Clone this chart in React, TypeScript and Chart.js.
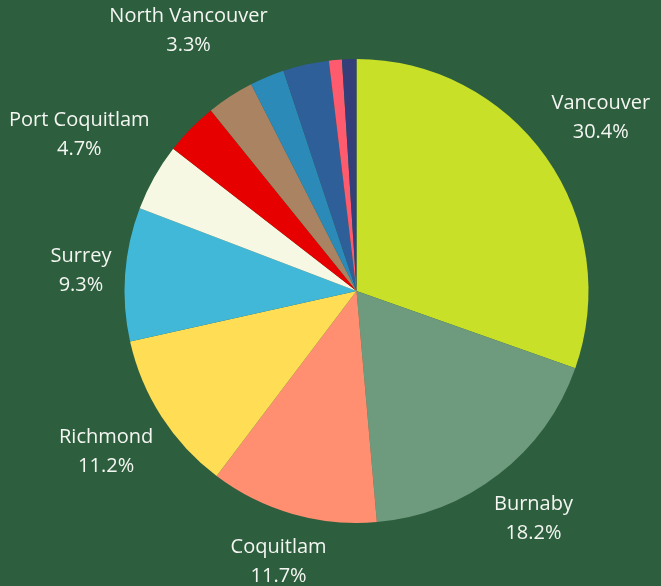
import React, { useEffect, useRef } from "react";
import { Chart, registerables } from "chart.js";

Chart.register(...registerables);

const cities = [
  "Vancouver",
  "Burnaby",
  "Coquitlam",
  "Richmond",
  "Surrey",
  "Port Coquitlam",
  "New Westminster",
  "North Vancouver",
  "Port Moody",
  "West Vancouver",
  "Delta",
  "Langley",
];
const shares = [30.4, 18.2, 11.7, 11.2, 9.3, 4.7, 3.7, 3.3, 2.4, 3.2, 0.9, 1.0];
const sliceColors = [
  "#C8E027",
  "#6E9B7D",
  "#FF8F70",
  "#FFDD55",
  "#42B8D8",
  "#F7F8E4",
  "#E60000",
  "#AA8462",
  "#2B8AB8",
  "#2E5F98",
  "#FF5B6E",
  "#343F7A",
];
const labeledCities = [
  "Vancouver",
  "Burnaby",
  "Coquitlam",
  "Richmond",
  "Surrey",
  "Port Coquitlam",
  "North Vancouver",
];

const BG = "#2D5E3E";
const FONT = "20px 'Open Sans'";

const outLabels = {
  id: "outLabels",
  afterDatasetsDraw(chart: any) {
    const ctx = chart.ctx;
    const meta = chart.getDatasetMeta(0);
    const data = chart.data.datasets[0].data as number[];
    const total = data.reduce((a, b) => a + b, 0);
    ctx.save();
    ctx.font = FONT;
    ctx.fillStyle = "#F4F6F2";
    ctx.textAlign = "center";
    ctx.textBaseline = "middle";
    meta.data.forEach((arc: any, i: number) => {
      const name = chart.data.labels[i] as string;
      if (!labeledCities.includes(name)) return;
      const pct = ((data[i] / total) * 100).toFixed(1) + "%";
      const mid = (arc.startAngle + arc.endAngle) / 2;
      const vx = Math.cos(mid);
      const vy = Math.sin(mid);
      const w = Math.max(ctx.measureText(name).width, ctx.measureText(pct).width);
      const halfH = 26;
      const dist = arc.outerRadius + 12 + Math.abs(vx) * (w / 2) + Math.abs(vy) * halfH;
      const cx = arc.x + vx * dist;
      const cy = arc.y + vy * dist;
      ctx.fillText(name, cx, cy - 15);
      ctx.fillText(pct, cx, cy + 14);
    });
    ctx.restore();
  },
};

export default function App() {
  const ref = useRef<HTMLCanvasElement | null>(null);
  useEffect(() => {
    document.body.style.margin = "0";
    const chart = new Chart(ref.current as HTMLCanvasElement, {
      type: "pie",
      data: {
        labels: cities,
        datasets: [
          {
            data: shares,
            backgroundColor: sliceColors,
            borderWidth: 0,
          },
        ],
      },
      options: {
        animation: false,
        responsive: false,
        layout: { padding: { left: 124, right: 72, top: 59, bottom: 63 } },
        plugins: {
          legend: { display: false },
          tooltip: { enabled: false },
        },
      },
      plugins: [outLabels],
    });
    return () => chart.destroy();
  }, []);
  return (
    <div style={{ width: 661, height: 586, background: BG }}>
      <canvas ref={ref} width={661} height={586} style={{ display: "block" }} />
    </div>
  );
}
